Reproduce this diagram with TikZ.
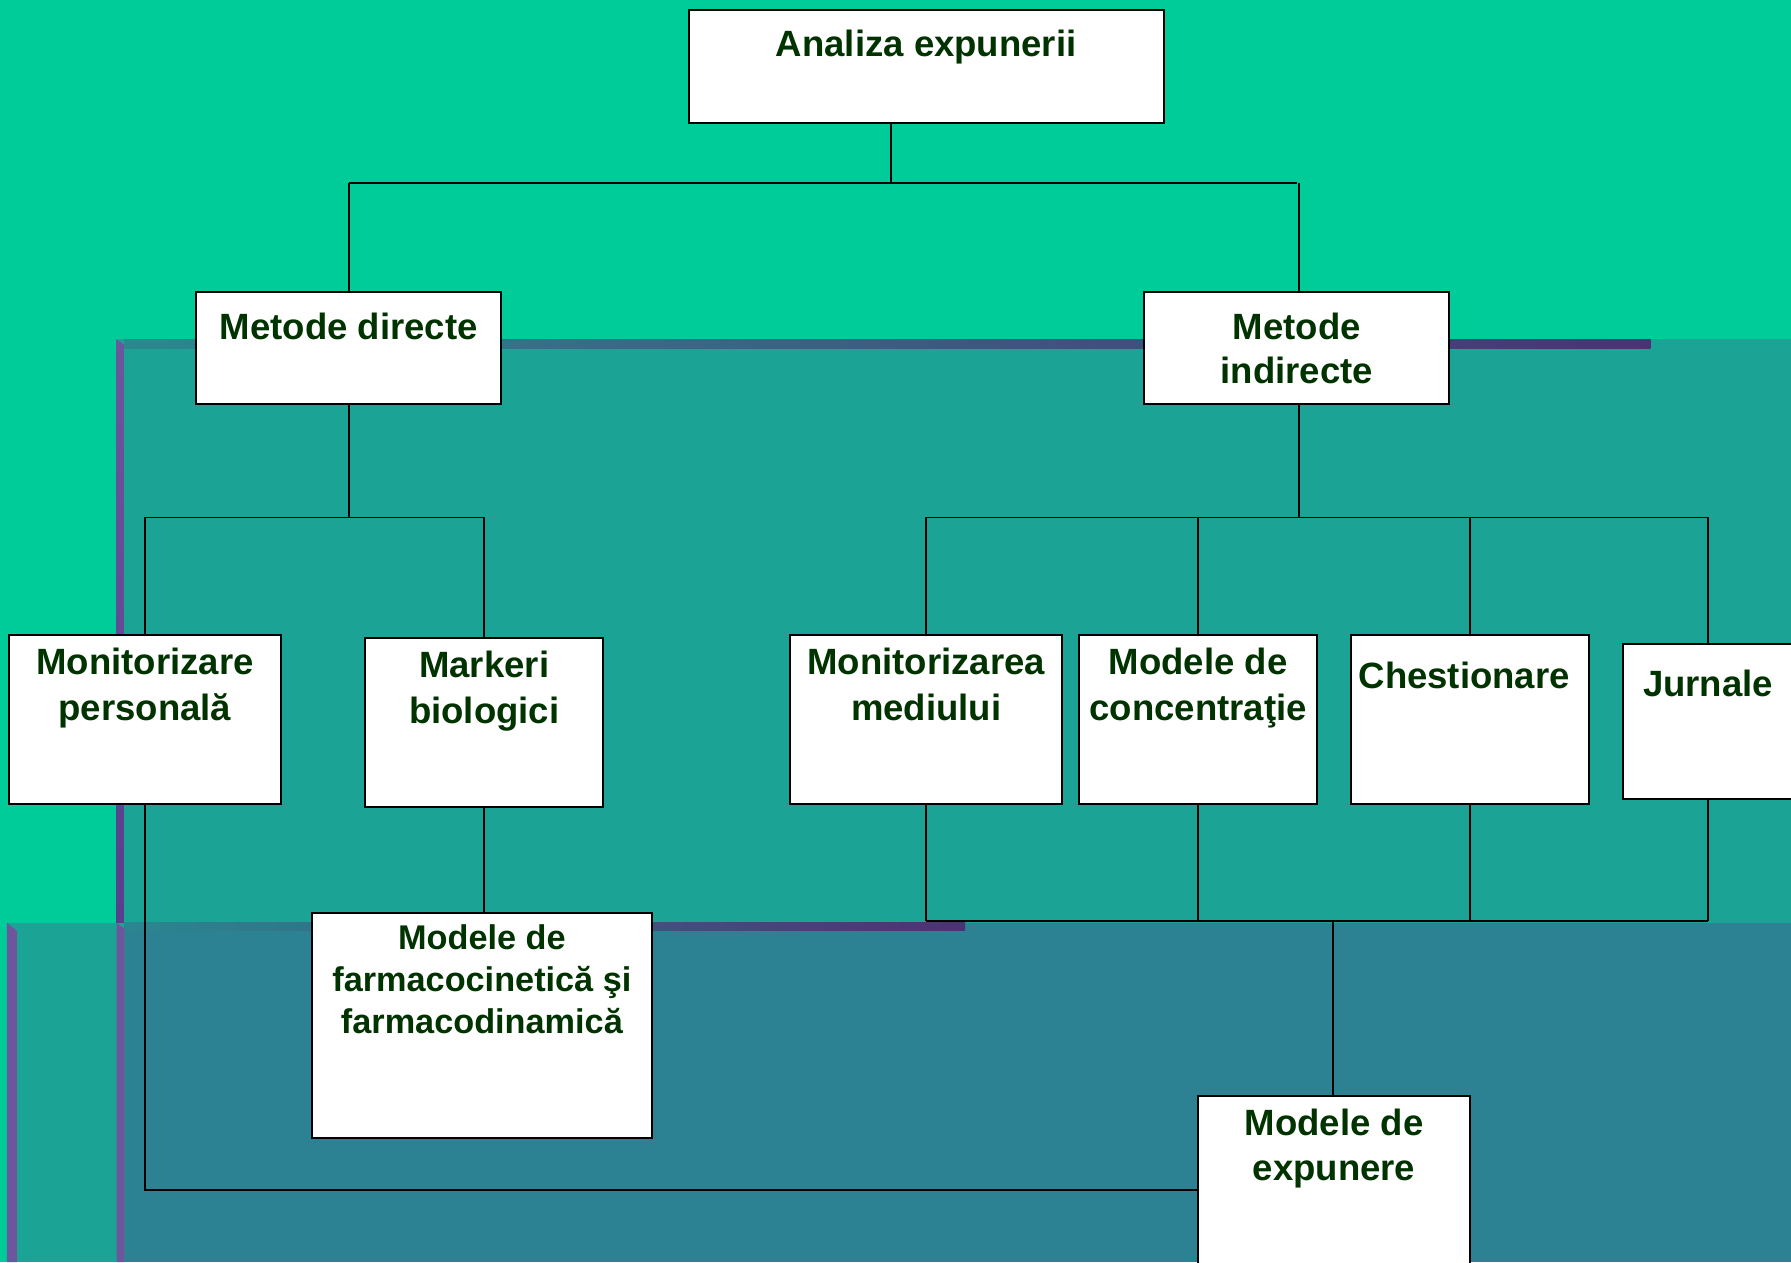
\documentclass[tikz,border=0pt]{standalone}
\usepackage{fontspec}
\setmainfont{Liberation Sans}
\definecolor{bggreen}{RGB}{0,204,153}
\definecolor{tealA}{RGB}{27,163,150}
\definecolor{tealB}{RGB}{44,130,146}
\definecolor{purpA}{RGB}{108,86,156}
\definecolor{purpB}{RGB}{88,62,140}
\definecolor{barL}{RGB}{42,136,142}
\definecolor{barR}{RGB}{76,50,116}
\definecolor{txtgreen}{RGB}{0,51,0}
\tikzset{
  box/.style={draw=black, line width=1.8pt, fill=white, inner sep=0pt, anchor=north west, font=\bfseries, text=txtgreen},
  conn/.style={draw=black, line width=1.6pt},
}
\newcommand{\bt}[6]{\parbox[t][#2pt][t]{#1pt}{\fontsize{#6pt}{#4pt}\selectfont\centering\rule{0pt}{#3pt}#5\par}}
\begin{document}
\begin{tikzpicture}[x=1pt,y=-1pt]
\useasboundingbox (0,0) rectangle (1568,1105);
\clip (0,0) rectangle (1568,1105);
% background layers
\fill[bggreen] (0,0) rectangle (1568,1105);
\fill[tealA] (102,297) rectangle (1568,1105);
\fill[tealA] (6,808) rectangle (102,1105);
\fill[tealB] (109,808) rectangle (1568,1105);
\shade[left color=barL, right color=barR] (109,297) rectangle (1445,305);
\shade[left color=barL!80!tealB, right color=barR] (109,808) rectangle (845,815);
\shade[top color=purpA, bottom color=purpB] (102,297) -- (109,302) -- (109,808) -- (102,808) -- cycle;
\fill[purpA] (102,808) -- (109,813) -- (109,1105) -- (102,1105) -- cycle;
\fill[purpA] (6,808) -- (15,815) -- (15,1105) -- (6,1105) -- cycle;

% boxes
\node[box] (A)  at (602,8)   {\bt{416}{99}{41}{39}{Analiza expunerii}{32}};
\node[box] (MD) at (171,255) {\bt{267}{98}{41.5}{38}{Metode directe}{32}};
\node[box] (MI) at (1001,255){\bt{267}{98}{41.5}{38}{Metode\\indirecte}{32}};
\node[box] (MP) at (7,555)   {\bt{238}{148}{34.5}{40}{Monitorizare\\personală}{32}};
\node[box] (MB) at (319,558) {\bt{208}{148}{34.5}{40}{Markeri\\biologici}{32}};
\node[box] (MM) at (691,555) {\bt{238}{148}{34.5}{40}{Monitorizarea\\mediului}{32}};
\node[box] (MC) at (944,555) {\bt{208}{148}{34.5}{40}{Modele de\\concentraţie}{32}};
\node[box] (CH) at (1182,555){\bt{208}{148}{46.5}{40}{Chestionare\hspace*{10pt}}{32}};
\node[box] (JU) at (1420,563){\bt{149}{136}{45.5}{40}{Jurnale}{32}};
\node[box] (FM) at (272,798) {\bt{298}{197}{32.7}{36.5}{Modele de\\farmacocinetică şi\\farmacodinamică}{30}};
\node[box] (ME) at (1048,959){\bt{238}{164}{34.5}{39}{Modele de\\expunere}{32}};

% junction coordinates
\coordinate (j0) at (780,160);
\coordinate (jl) at (304,453);
\coordinate (jr) at (1137,453);
\coordinate (jb) at (1167,806);

% connectors
\draw[conn] (A.south -| j0) -- (j0);
\draw[conn] (MD.north |- j0) -- (j0 -| MI.north);
\draw[conn] (MD.north |- j0) -- (MD.north);
\draw[conn] (1137,160) -- (1137,255);
\draw[conn] (MD.south) -- (MD.south |- jl);
\draw[conn] (MP.north |- jl) -- (jl -| MB.north);
\draw[conn] (MP.north |- jl) -- (MP.north);
\draw[conn] (MB.north |- jl) -- (MB.north);
\draw[conn] (1137,353) -- (jr);
\draw[conn] (MM.north |- jr) -- (jr -| JU.north);
\draw[conn] (MM.north |- jr) -- (MM.north);
\draw[conn] (MC.north |- jr) -- (MC.north);
\draw[conn] (CH.north |- jr) -- (CH.north);
\draw[conn] (JU.north |- jr) -- (JU.north);
\draw[conn] (MM.south) -- (MM.south |- jb);
\draw[conn] (MC.south) -- (MC.south |- jb);
\draw[conn] (CH.south) -- (CH.south |- jb);
\draw[conn] (JU.south) -- (JU.south |- jb);
\draw[conn] (MM.south |- jb) -- (jb -| JU.south);
\draw[conn] (jb) -- (jb |- ME.north);
\draw[conn] (MB.south) -- (MB.south |- FM.north);
\draw[conn] (MP.south) |- (ME.west);
\end{tikzpicture}
\end{document}
